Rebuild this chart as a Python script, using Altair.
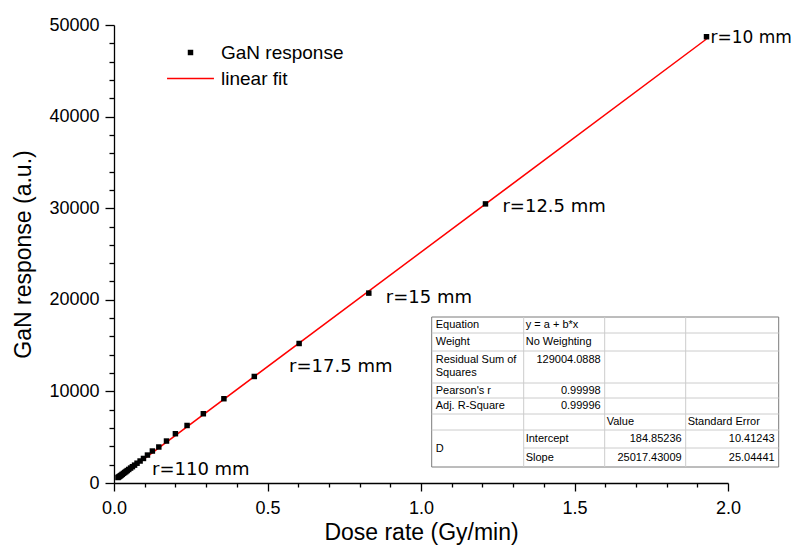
import altair as alt
import pandas as pd

# ---------------- data ----------------
dose_rate = [1.930, 1.210, 0.830, 0.603, 0.457, 0.358, 0.291, 0.238, 0.200, 0.171,
             0.146, 0.125, 0.109, 0.096, 0.085, 0.075, 0.067, 0.060, 0.054, 0.048,
             0.043, 0.039, 0.035, 0.031, 0.027, 0.024, 0.021, 0.018, 0.015, 0.013]
gan_response = [48720, 30470, 20730, 15230, 11630, 9200, 7560, 6280, 5380, 4580,
                3930, 3490, 3050, 2680, 2400, 2160, 1950, 1780, 1630, 1480,
                1360, 1250, 1150, 1050, 950, 870, 790, 720, 650, 600]
fit_dose = [0.013, 1.930]
fit_response = [510, 48470]

label_text = ["r=10 mm", "r=12.5 mm", "r=15 mm", "r=17.5 mm", "r=110 mm"]
label_point = [0, 1, 2, 3, 29]

x_ticks = [0.0, 0.1, 0.2, 0.3, 0.4, 0.5, 0.6, 0.7, 0.8, 0.9, 1.0,
           1.1, 1.2, 1.3, 1.4, 1.5, 1.6, 1.7, 1.8, 1.9, 2.0]
y_ticks = [0, 2000, 4000, 6000, 8000, 10000, 12000, 14000, 16000, 18000, 20000,
           22000, 24000, 26000, 28000, 30000, 32000, 34000, 36000, 38000, 40000,
           42000, 44000, 46000, 48000, 50000]

# table texts
table_text = ["Equation", "y = a + b*x", "Weight", "No Weighting",
              "Residual Sum of", "Squares", "129004.0888",
              "Pearson's r", "0.99998", "Adj. R-Square", "0.99996",
              "Value", "Standard Error", "D",
              "Intercept", "184.85236", "10.41243",
              "Slope", "25017.43009", "25.04441"]
table_row = [0, 0, 1, 1, 2, 2, 2, 3, 3, 4, 4, 5, 5, 6, 6, 6, 6, 7, 7, 7]
table_col = [0, 1, 0, 1, 0, 0, 1, 0, 1, 0, 1, 2, 3, 0, 1, 2, 3, 1, 2, 3]
table_align = ["left", "left", "left", "left", "left", "left", "right",
               "left", "right", "left", "right", "left", "left", "left",
               "left", "right", "right", "left", "right", "right"]
table_line = [-1, -1, -1, -1, 0, 1, 0, -1, -1, -1, -1, -1, -1, -1,
              -1, -1, -1, -1, -1, -1]

# ---------------- layout / style ----------------
PLOT_W, PLOT_H = 614, 458
ORIGIN_X, ORIGIN_Y = 114.3, 25.0
COL_EDGES = [432, 524, 605, 686, 779]
ROW_EDGES = [317, 333, 351, 383, 398, 414, 430, 448, 467]
AX_FONT = "Liberation Sans"
ANN_FONT = "DejaVu Sans"

# ---------------- main plot ----------------
points = pd.DataFrame({"dose": dose_rate, "resp": gan_response,
                       "series": ["GaN response"] * len(dose_rate)})
fit = pd.DataFrame({"dose": fit_dose, "resp": fit_response,
                    "series": ["linear fit"] * len(fit_dose)})

x_scale = alt.Scale(domain=[0, 2.0], nice=False, zero=False)
y_scale = alt.Scale(domain=[0, 50000], nice=False)

x_axis = alt.Axis(
    values=x_ticks,
    labelExpr="abs(datum.value*2 - round(datum.value*2)) < 1e-6 ? format(datum.value, '.1f') : ''",
    tickSize={"condition": {"test": "abs(datum.value*2 - round(datum.value*2)) < 1e-6", "value": 8}, "value": 4},
    title="Dose rate (Gy/min)", grid=False,
    domainColor="black", domainWidth=1.3, tickColor="black", tickWidth=1.3,
    labelFont=AX_FONT, labelFontSize=18, labelColor="black", labelPadding=8,
    labelFlush=False, labelOverlap=False,
    titleFont=AX_FONT, titleFontSize=23, titleFontWeight="normal", titleColor="black",
    titlePadding=4)
y_axis = alt.Axis(
    values=y_ticks,
    labelExpr="datum.value % 10000 === 0 ? format(datum.value, 'd') : ''",
    tickSize={"condition": {"test": "datum.value % 10000 === 0", "value": 9}, "value": 5},
    title="GaN response (a.u.)", grid=False,
    domainColor="black", domainWidth=1.3, tickColor="black", tickWidth=1.3,
    labelFont=AX_FONT, labelFontSize=18, labelColor="black", labelPadding=6,
    labelFlush=False, labelOverlap=False,
    titleFont=AX_FONT, titleFontSize=23, titleFontWeight="normal", titleColor="black",
    titlePadding=13)

pts_legend = alt.Legend(
    orient="none", legendX=67, legendY=18, title=None, padding=0,
    symbolType="square", symbolSize=30, symbolFillColor="black", symbolStrokeColor="black",
    symbolOpacity=1, labelOffset=21,
    labelFont=AX_FONT, labelFontSize=19, labelColor="black")
fit_legend = alt.Legend(
    orient="none", legendX=52, legendY=29, title=None, padding=0,
    symbolType="stroke", symbolSize=2200, symbolStrokeWidth=1.5, symbolStrokeColor="red",
    symbolOpacity=1, labelOffset=6,
    labelFont=AX_FONT, labelFontSize=19, labelColor="black")

X = alt.X("dose:Q", scale=x_scale, axis=x_axis)
Y = alt.Y("resp:Q", scale=y_scale, axis=y_axis)

line = alt.Chart(fit).mark_line(strokeWidth=1.5).encode(
    x=X, y=Y,
    color=alt.Color("series:N", scale=alt.Scale(domain=["linear fit"], range=["red"]),
                    legend=fit_legend))

pts = alt.Chart(points).mark_point(size=30, filled=True, opacity=1, color="black").encode(
    x=X, y=Y,
    shape=alt.Shape("series:N", scale=alt.Scale(domain=["GaN response"], range=["square"]),
                    legend=pts_legend))

# annotations
ann_style = [(4, 1, 17), (17, 3, 18), (17, 5, 18), (-10, 24, 18), (34, -8, 18)]
ann_layers = []
for txt, idx, (dx, dy, fs) in zip(label_text, label_point, ann_style):
    d = pd.DataFrame({"dose": [dose_rate[idx]], "resp": [gan_response[idx]], "t": [txt]})
    ann_layers.append(alt.Chart(d).mark_text(
        align="left", baseline="middle", dx=dx, dy=dy,
        font=ANN_FONT, fontSize=fs, color="black").encode(x=X, y=Y, text="t:N"))

# ---------------- fit-result table ----------------
cx = [c - ORIGIN_X for c in COL_EDGES]
ry = [r - ORIGIN_Y for r in ROW_EDGES]

cells = []
for t, r, c, a, ln in zip(table_text, table_row, table_col, table_align, table_line):
    if a == "left":
        x = cx[c] + (4 if c == 0 else 2)
    else:
        x = cx[c + 1] - 4
    if t == "D":
        y = (ry[6] + ry[8]) / 2
    elif ln >= 0:
        y = ry[r] + 9 + 12.5 * ln
    else:
        y = (ry[r] + ry[r + 1]) / 2
    cells.append({"t": t, "x": x, "y": y, "align": a})
cells = pd.DataFrame(cells)

segs = []
for i, yv in enumerate(ry[1:-1], start=1):
    x0 = cx[1] if i == 7 else cx[0]
    segs.append({"x": x0, "x2": cx[-1], "y": yv, "y2": yv})
for xv in cx[1:-1]:
    segs.append({"x": xv, "x2": xv, "y": ry[0], "y2": ry[-1]})
segs = pd.DataFrame(segs)
border = pd.DataFrame({"x": [cx[0]], "x2": [cx[-1]], "y": [ry[0]], "y2": [ry[-1]]})

tbl_bg = alt.Chart(border).mark_rect(fill="white", stroke="#7a7a7a", strokeWidth=1).encode(
    x=alt.X("x:Q", scale=None), x2="x2:Q", y=alt.Y("y:Q", scale=None), y2="y2:Q")
tbl_grid = alt.Chart(segs).mark_rule(color="#cccccc", strokeWidth=1).encode(
    x=alt.X("x:Q", scale=None), x2="x2:Q", y=alt.Y("y:Q", scale=None), y2="y2:Q")
tbl_left = alt.Chart(cells[cells["align"] == "left"]).mark_text(
    align="left", baseline="middle", font=AX_FONT, fontSize=11, color="black").encode(
    x=alt.X("x:Q", scale=None), y=alt.Y("y:Q", scale=None), text="t:N")
tbl_right = alt.Chart(cells[cells["align"] == "right"]).mark_text(
    align="right", baseline="middle", font=AX_FONT, fontSize=11, color="black").encode(
    x=alt.X("x:Q", scale=None), y=alt.Y("y:Q", scale=None), text="t:N")

chart = alt.layer(line, pts, *ann_layers, tbl_bg, tbl_grid, tbl_left, tbl_right).properties(
    width=PLOT_W, height=PLOT_H,
    autosize=alt.AutoSizeParams(type="none"),
    padding={"left": 106, "top": 17, "right": 68, "bottom": 62},
    background="white",
).configure_view(stroke=None)

chart.save("out.html", embed_options={"renderer": "svg", "actions": False})
